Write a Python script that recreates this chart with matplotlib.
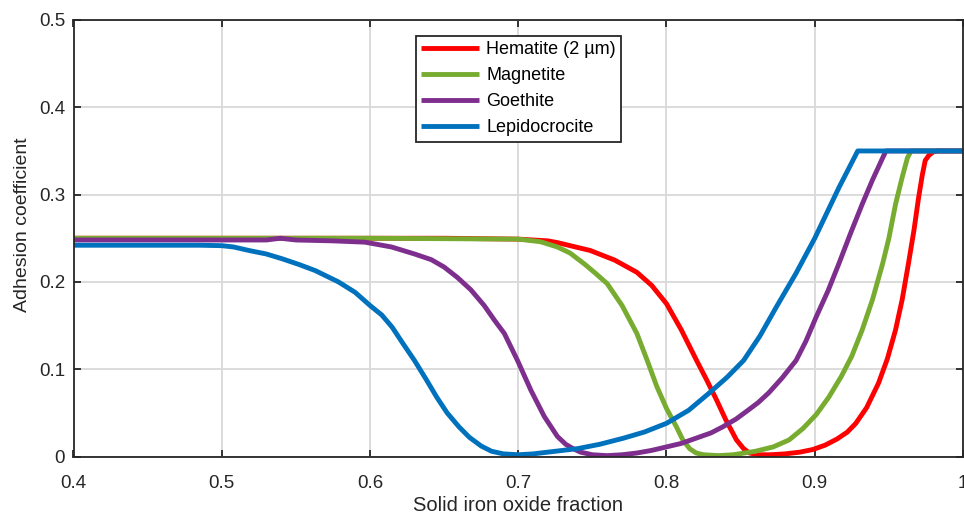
import matplotlib
matplotlib.use("Agg")
import matplotlib.pyplot as plt

plt.rcParams["font.family"] = ["Liberation Sans", "DejaVu Sans"]

# values
hem_x = [0.40, 0.50, 0.60, 0.65, 0.70, 0.72, 0.7264, 0.7485, 0.765, 0.780, 0.790,
         0.800, 0.810, 0.8203, 0.827, 0.8337, 0.840, 0.8472, 0.852, 0.856, 0.862,
         0.870, 0.880, 0.890, 0.8987, 0.907, 0.915, 0.922, 0.9277, 0.935, 0.943,
         0.949, 0.9545, 0.959, 0.9632, 0.967, 0.970, 0.9725, 0.9745, 0.977, 0.980,
         0.983, 1.0]
hem_y = [0.250, 0.250, 0.250, 0.250, 0.249, 0.247, 0.245, 0.236, 0.225, 0.211, 0.196,
         0.175, 0.145, 0.110, 0.088, 0.065, 0.042, 0.019, 0.009, 0.004, 0.002,
         0.002, 0.003, 0.005, 0.008, 0.013, 0.020, 0.028, 0.038, 0.056, 0.084,
         0.112, 0.145, 0.180, 0.221, 0.260, 0.296, 0.322, 0.339, 0.345, 0.349,
         0.350, 0.350]

mag_x = [0.40, 0.50, 0.60, 0.70, 0.715, 0.7264, 0.735, 0.745, 0.752, 0.760, 0.770,
         0.780, 0.787, 0.7935, 0.800, 0.8067, 0.811, 0.8156, 0.820, 0.825, 0.835,
         0.845, 0.860, 0.872, 0.8827, 0.892, 0.901, 0.9095, 0.918, 0.925, 0.932,
         0.939, 0.9458, 0.950, 0.9545, 0.959, 0.9625, 0.965, 1.0]
mag_y = [0.250, 0.250, 0.250, 0.249, 0.246, 0.240, 0.233, 0.220, 0.210, 0.198, 0.173,
         0.141, 0.110, 0.080, 0.055, 0.034, 0.019, 0.009, 0.004, 0.002, 0.001,
         0.002, 0.006, 0.011, 0.019, 0.032, 0.048, 0.068, 0.092, 0.115, 0.145,
         0.180, 0.221, 0.250, 0.289, 0.320, 0.342, 0.350, 0.350]

goe_x = [0.40, 0.485, 0.53, 0.5396, 0.55, 0.575, 0.5966, 0.6145, 0.630, 0.6413, 0.650,
         0.659, 0.668, 0.677, 0.684, 0.6906, 0.6995, 0.7085, 0.7175, 0.7264, 0.732,
         0.737, 0.742, 0.750, 0.760, 0.770, 0.780, 0.790, 0.800, 0.810, 0.820,
         0.830, 0.838, 0.847, 0.855, 0.862, 0.869, 0.878, 0.8874, 0.894, 0.901,
         0.909, 0.9163, 0.924, 0.932, 0.939, 0.9458, 0.948, 1.0]
goe_y = [0.248, 0.248, 0.248, 0.250, 0.248, 0.247, 0.2455, 0.240, 0.232, 0.2255, 0.217,
         0.205, 0.191, 0.173, 0.156, 0.141, 0.110, 0.076, 0.046, 0.023, 0.014,
         0.009, 0.005, 0.002, 0.001, 0.002, 0.004, 0.007, 0.011, 0.015, 0.021,
         0.027, 0.034, 0.043, 0.053, 0.062, 0.073, 0.090, 0.110, 0.132, 0.160,
         0.190, 0.221, 0.255, 0.289, 0.317, 0.342, 0.350, 0.350]

lep_x = [0.40, 0.485, 0.50, 0.508, 0.5183, 0.530, 0.5407, 0.552, 0.563, 0.5787, 0.590,
         0.600, 0.608, 0.615, 0.622, 0.630, 0.638, 0.645, 0.652, 0.660, 0.667,
         0.675, 0.682, 0.690, 0.700, 0.710, 0.720, 0.730, 0.740, 0.755, 0.771,
         0.785, 0.800, 0.815, 0.829, 0.841, 0.852, 0.863, 0.874, 0.8874, 0.900,
         0.9163, 0.929, 1.0]
lep_y = [0.242, 0.242, 0.2415, 0.240, 0.236, 0.232, 0.2265, 0.220, 0.213, 0.200, 0.188,
         0.173, 0.162, 0.148, 0.130, 0.110, 0.088, 0.068, 0.050, 0.034, 0.022,
         0.012, 0.006, 0.003, 0.002, 0.003, 0.005, 0.007, 0.009, 0.014, 0.021,
         0.028, 0.038, 0.053, 0.073, 0.091, 0.110, 0.138, 0.171, 0.210, 0.250,
         0.308, 0.350, 0.350]

names = ["Hematite (2 µm)", "Magnetite", "Goethite", "Lepidocrocite"]
colors = ["#FF0000", "#77AC30", "#7E2F8E", "#0072BD"]

x_ticks = [0.4, 0.5, 0.6, 0.7, 0.8, 0.9, 1.0]
x_labels = ["0.4", "0.5", "0.6", "0.7", "0.8", "0.9", "1"]
y_ticks = [0, 0.1, 0.2, 0.3, 0.4, 0.5]
y_labels = ["0", "0.1", "0.2", "0.3", "0.4", "0.5"]

fig = plt.figure(figsize=(9.64, 5.18), dpi=100)
ax = fig.add_axes([73.5 / 964, 1 - 456.5 / 518, 889.5 / 964, 436.5 / 518])

series = [(hem_x, hem_y), (mag_x, mag_y), (goe_x, goe_y), (lep_x, lep_y)]
for (xs, ys), name, c in zip(series, names, colors):
    ax.plot(xs, ys, color=c, linewidth=3.5, label=name,
            solid_joinstyle="round", solid_capstyle="butt")

ax.set_xlim(0.4, 1.0)
ax.set_ylim(0, 0.5)
ax.set_xticks(x_ticks, labels=x_labels)
ax.set_yticks(y_ticks, labels=y_labels)
ax.grid(True, color="#d9d9d9", linewidth=1.3)
ax.set_axisbelow(True)

for s in ax.spines.values():
    s.set_color("#262626")
    s.set_linewidth(1.3)
ax.tick_params(direction="in", length=5, width=1.3, colors="#262626",
               labelsize=13.5, top=True, right=True)
ax.tick_params(axis="x", pad=13)
ax.tick_params(axis="y", pad=6)

ax.set_xlabel("Solid iron oxide fraction", fontsize=14.5, color="#262626", labelpad=3)
ax.set_ylabel("Adhesion coefficient", fontsize=14, color="#262626")
ax.yaxis.set_label_coords(-0.048, 0.53)

leg = ax.legend(loc="upper left", bbox_to_anchor=((416 - 73.5) / 889.5, 1 - (36 - 20) / 436.5),
                fontsize=13, frameon=True, fancybox=False, framealpha=1,
                handlelength=3.2, handletextpad=0.4, labelspacing=0.5,
                borderpad=0.3, borderaxespad=0)
leg.get_frame().set_edgecolor("#262626")
leg.get_frame().set_linewidth(1.3)

fig.savefig("out.png", dpi=100)
plt.close(fig)
